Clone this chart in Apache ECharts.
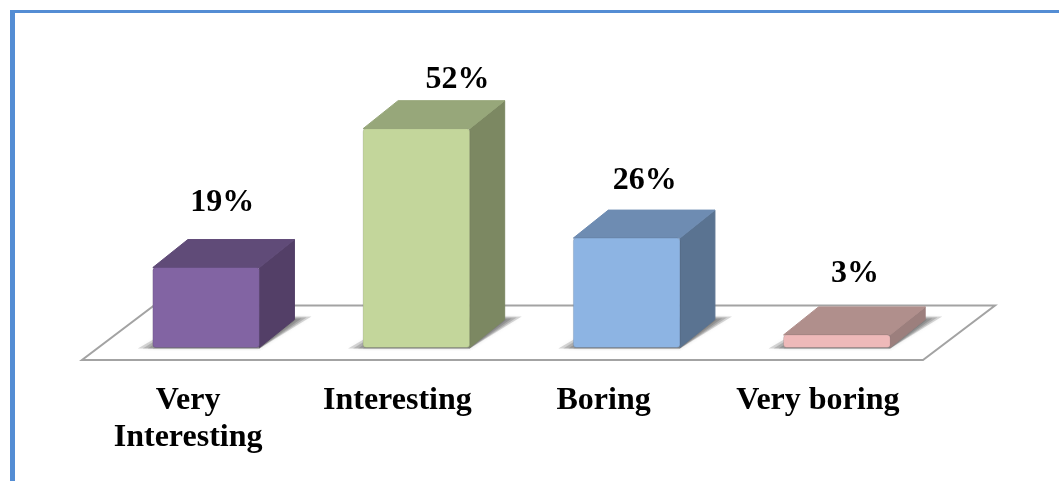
<!DOCTYPE html>
<html>
<head>
<meta charset="utf-8">
<style>html,body{margin:0;padding:0;background:#fff}#c{width:1059px;height:481px}</style>
<script src="https://cdn.jsdelivr.net/npm/echarts@6/dist/echarts.min.js"></script>
</head>
<body>
<div id="c"></div>
<script>
const categories = ['Very\nInteresting', 'Interesting', 'Boring', 'Very boring'];
const values = [19, 52, 26, 3];
const valueLabels = ['19%', '52%', '26%', '3%'];
const faceColors = [
  { front: '#8264a3', top: '#604b78', side: '#533f67' },
  { front: '#c3d69b', top: '#97a77a', side: '#7c8862' },
  { front: '#8db4e3', top: '#6e8cb2', side: '#5a7391' },
  { front: '#eeb9b9', top: '#b08f8c', side: '#9c7f7d' }
];
const labelShift = [[16, -37], [41, -21], [18, -29], [18, -33]];
const axisShift = [36, 38, 46, 38];
const DX = 35, DY = -28;

function renderFloor(params, api) {
  const g = params.coordSys;
  const y = api.coord([0, 0])[1];
  return {
    type: 'polygon', silent: true,
    shape: { points: [
      [g.x - 19, y + 12.5], [g.x + g.width - 19, y + 12.5],
      [g.x + g.width + 53, y - 42], [g.x + 53, y - 42]
    ] },
    style: { fill: '#fff', stroke: '#a3a3a3', lineWidth: 2 }
  };
}

function renderBar(params, api) {
  const i = api.value(0), v = api.value(1);
  const base = api.coord([i, 0]), top = api.coord([i, v]);
  const w = api.size([1, 0])[0] * 0.507;
  const x0 = base[0] - w / 2, x1 = base[0] + w / 2;
  const yb = base[1], yt = top[1];
  const c = faceColors[i];
  const s = labelShift[i];
  const shadowLayers = [0, 1, 2, 3].map(k => ({
    type: 'polygon', silent: true,
    shape: { points: [
      [x0 - 15 + k * 5, yb + 1], [x1, yb + 1],
      [x1 + DX + 17 - k * 5, yb - 31 + k], [x0 + 40, yb - 31 + k]
    ] },
    style: { fill: 'rgba(60,60,60,0.2)', shadowBlur: 4, shadowColor: 'rgba(60,60,60,0.2)' }
  }));
  return {
    type: 'group',
    children: shadowLayers.concat([
      { type: 'polygon',
        shape: { points: [[x1, yt], [x1 + DX, yt + DY], [x1 + DX, yb + DY], [x1, yb]] },
        style: { fill: c.side, stroke: c.side, lineWidth: 1, lineJoin: 'round' } },
      { type: 'polygon',
        shape: { points: [[x0, yt], [x0 + DX, yt + DY], [x1 + DX, yt + DY], [x1, yt]] },
        style: { fill: c.top, stroke: c.top, lineWidth: 1, lineJoin: 'round' } },
      { type: 'rect',
        shape: { x: x0, y: yt, width: w, height: yb - yt, r: 3 },
        style: { fill: c.front, stroke: 'rgba(0,0,0,0.10)', lineWidth: 1 } },
      { type: 'text', silent: true,
        style: {
          x: base[0] + s[0], y: yt + DY + s[1],
          text: valueLabels[i], align: 'center', verticalAlign: 'middle',
          font: 'bold 32px "Liberation Serif"', fill: '#000'
        } }
    ])
  };
}

const chart = echarts.init(document.getElementById('c'), null, { renderer: 'canvas' });
chart.setOption({
  animation: false,
  backgroundColor: '#fff',
  grid: { left: 101, width: 841, top: 95, height: 252.5 },
  xAxis: {
    type: 'category', data: categories,
    axisLine: { show: false }, axisTick: { show: false }, splitLine: { show: false },
    axisLabel: {
      interval: 0, margin: 35, color: '#000', verticalAlign: 'top',
      fontFamily: 'Liberation Serif', fontWeight: 'bold', fontSize: 32, lineHeight: 37,
      formatter: (v, i) => v.split('\n').map(t => '{a' + i + '|' + t + '}').join('\n'),
      rich: Object.fromEntries(axisShift.map((p, i) => ['a' + i, {
        padding: [0, p, 0, 0], fontFamily: 'Liberation Serif', fontWeight: 'bold',
        fontSize: 32, lineHeight: 37, color: '#000'
      }]))
    }
  },
  yAxis: { type: 'value', min: 0, max: 60, show: false },
  graphic: [
    { type: 'rect', z: 100, shape: { x: 10, y: 10, width: 1049, height: 3 }, style: { fill: '#548dd4' } },
    { type: 'rect', z: 100, shape: { x: 10, y: 10, width: 5, height: 471 }, style: { fill: '#548dd4' } }
  ],
  series: [
    { type: 'custom', z: 1, renderItem: renderFloor, data: [[0, 0]], encode: { x: 0, y: 1 }, silent: true },
    { type: 'custom', z: 2, renderItem: renderBar, data: values.map((v, i) => [i, v]), encode: { x: 0, y: 1 } }
  ]
});
</script>
</body>
</html>
